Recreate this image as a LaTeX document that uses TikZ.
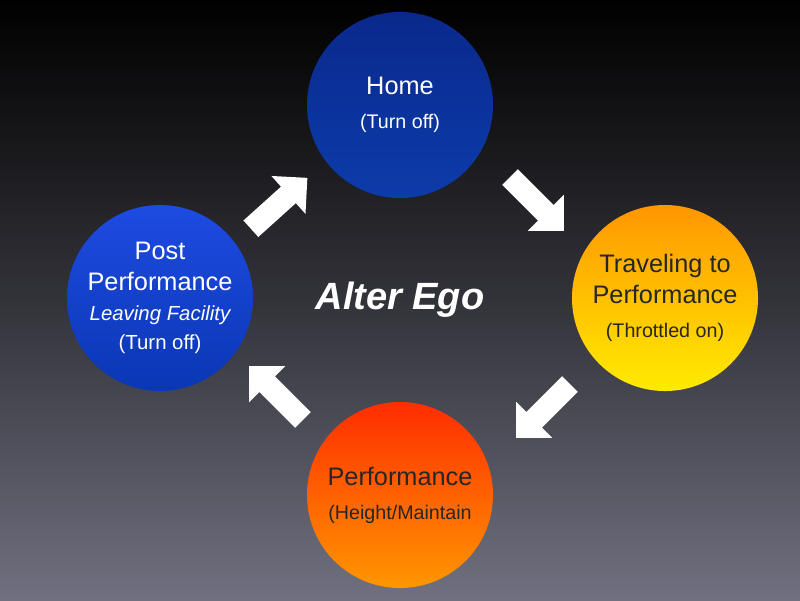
\documentclass[tikz,border=0pt]{standalone}
\usepackage{fontspec}
\setmainfont{Liberation Sans}
\usetikzlibrary{shapes.arrows}
\definecolor{bgbottom}{RGB}{112,112,128}
\definecolor{homeblue}{RGB}{10,40,140}
\definecolor{homeblueb}{RGB}{12,60,170}
\definecolor{postblue}{RGB}{30,75,225}
\definecolor{postblueb}{RGB}{10,55,180}
\definecolor{travtop}{RGB}{255,150,0}
\definecolor{travbot}{RGB}{255,235,0}
\definecolor{perftop}{RGB}{255,45,0}
\definecolor{perfbot}{RGB}{255,150,0}
\begin{document}
\begin{tikzpicture}[x=0.025cm,y=-0.025cm,
    stage/.style={circle, minimum size=4.65cm, inner sep=0pt, align=center, text=white, font=\fontsize{18}{22}\selectfont},
    blockarrow/.style={single arrow, fill=white, minimum height=1.9cm, inner sep=0.27cm, single arrow head extend=0.36cm, single arrow tip angle=90}
  ]

%background
\shade[top color=black, bottom color=bgbottom, middle color=black!55!bgbottom] (0,0) rectangle (800,600);

%stages
\node[stage, top color=homeblue, bottom color=homeblueb] (home) at (400,105) {Home\\[2pt]{\fontsize{14}{17}\selectfont(Turn off)}};
\node[stage, top color=travtop, bottom color=travbot, text=black!85] (travel) at (665,298) {Traveling to\\Performance\\[2pt]{\fontsize{14}{17}\selectfont(Throttled on)}};
\node[stage, top color=perftop, bottom color=perfbot, text=black!85] (perf) at (400,495) {Performance\\[2pt]{\fontsize{14}{17}\selectfont(Height/Maintain}};
\node[stage, top color=postblue, bottom color=postblueb] (post) at (160,298) {Post\\Performance\\[-1pt]{\fontsize{14.5}{17}\selectfont\itshape Leaving Facility}\\[-1pt]{\fontsize{14.5}{17}\selectfont(Turn off)}};

%arrows
\node[blockarrow, rotate=42] (a1) at (275,207) {};
\node[blockarrow, rotate=-45] (a2) at (533,200) {};
\node[blockarrow, rotate=-135] (a3) at (547,407) {};
\node[blockarrow, rotate=135] (a4) at (280,397) {};

%title
\node[text=white, font=\fontsize{27}{30}\selectfont\bfseries\itshape] (title) at (400,300) {Alter Ego};
\end{tikzpicture}
\end{document}
